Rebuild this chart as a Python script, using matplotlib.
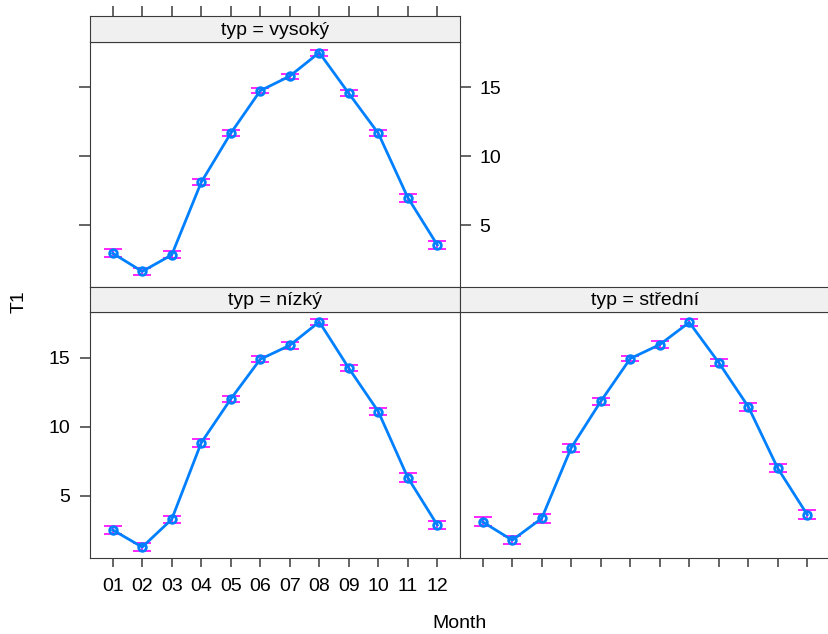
import numpy as np
import matplotlib.pyplot as plt

plt.rcParams['font.family'] = ['Liberation Sans', 'DejaVu Sans']

months = ['01', '02', '03', '04', '05', '06', '07', '08', '09', '10', '11', '12']

# mean T1 per month and half-width of error bars, by typ
vysoky = [2.95, 1.63, 2.83, 8.11, 11.67, 14.76, 15.82, 17.53, 14.57, 11.67, 7.00, 3.56]
vysoky_err = [0.30, 0.28, 0.25, 0.23, 0.22, 0.19, 0.19, 0.22, 0.22, 0.22, 0.29, 0.30]
nizky = [2.53, 1.29, 3.30, 8.84, 12.00, 14.88, 15.89, 17.59, 14.24, 11.10, 6.32, 2.89]
nizky_err = [0.28, 0.28, 0.25, 0.28, 0.22, 0.22, 0.24, 0.22, 0.20, 0.28, 0.32, 0.29]
stredni = [3.11, 1.79, 3.37, 8.48, 11.83, 14.93, 15.94, 17.55, 14.64, 11.45, 6.99, 3.63]
stredni_err = [0.33, 0.31, 0.31, 0.28, 0.25, 0.17, 0.23, 0.24, 0.24, 0.28, 0.29, 0.31]

W, H = 829, 634
fig = plt.figure(figsize=(W / 100, H / 100), dpi=100)

edge = '#3a3a3a'
x = np.arange(1, 13)
xlim = (0.23, 12.77)
ylim = (0.5, 18.3)


def frac(x0, y0, x1, y1):
    # pixel box -> figure fraction
    return [x0 / W, 1 - y1 / H, (x1 - x0) / W, (y1 - y0) / H]


def panel(box, strip_box, vals, errs, title):
    ax = fig.add_axes(frac(*box))
    ax.errorbar(x, vals, yerr=errs, fmt='none', ecolor='#ff00ff', elinewidth=1.2,
                capsize=6.5, capthick=1.2, zorder=2)
    ax.plot(x, vals, color='#0080ff', lw=2, marker='o', ms=5.5, mfc='none',
            mec='#0080ff', mew=2, zorder=3)
    ax.set_xlim(*xlim)
    ax.set_ylim(*ylim)
    for s in ax.spines.values():
        s.set_color(edge)
    ax.tick_params(colors=edge, labelcolor='black', labelsize=14, width=1.1)

    st = fig.add_axes(frac(*strip_box))
    st.set_facecolor('#f0f0f0')
    st.set_xlim(*xlim)
    st.set_yticks([])
    st.set_xticks([])
    for s in st.spines.values():
        s.set_color(edge)
    st.text(0.5, 0.45, title, transform=st.transAxes, ha='center', va='center',
            fontsize=14)
    return ax, st


ax1, st1 = panel((90, 42, 460, 287), (90, 16, 460, 42), vysoky, vysoky_err, 'typ = vysoký')
ax2, st2 = panel((90, 312, 460, 558), (90, 287, 460, 312), nizky, nizky_err, 'typ = nízký')
ax3, st3 = panel((460, 312, 830, 558), (460, 287, 830, 312), stredni, stredni_err, 'typ = střední')

# top panel: x ticks above the strip, y labels on the right
ax1.set_xticks([])
st1.set_xticks(x)
st1.tick_params(axis='x', top=True, bottom=False, labeltop=False, labelbottom=False,
                direction='out', length=7, width=1.1, colors=edge)
ax1.set_yticks([5, 10, 15])
ax1.tick_params(axis='y', left=True, right=True, labelleft=False, labelright=True,
                length=8, pad=6)

# bottom left
ax2.set_xticks(x, months)
ax2.tick_params(axis='x', length=6.5, pad=8)
ax2.set_yticks([5, 10, 15])
ax2.tick_params(axis='y', length=7, pad=7)

# bottom right
ax3.set_xticks(x, [])
ax3.tick_params(axis='x', length=6.5)
ax3.set_yticks([])

fig.text(19 / W, 1 - 302 / H, 'T1', rotation=90, ha='center', va='center', fontsize=14)
fig.text(460 / W, 1 - 624 / H, 'Month', ha='center', va='center', fontsize=14)

fig.savefig('out.png', dpi=100)
